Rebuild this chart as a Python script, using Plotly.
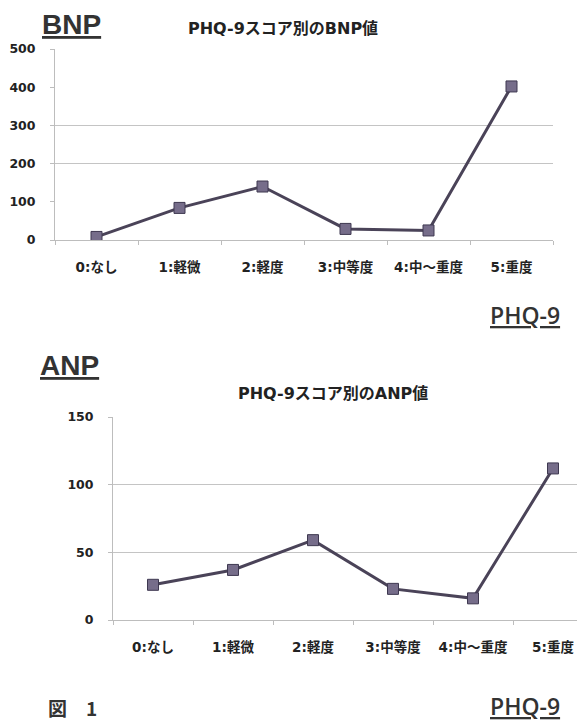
import plotly.graph_objects as go

categories = ["0:なし", "1:軽微", "2:軽度", "3:中等度", "4:中～重度", "5:重度"]
bnp_values = [8, 84, 140, 29, 25, 402]
anp_values = [26, 37, 59, 23, 16, 112]
bnp_ticks = [0, 100, 200, 300, 400, 500]
anp_ticks = [0, 50, 100, 150]
bnp_grid = [200, 300]
anp_grid = [50, 100]

# the page body has an 8px default margin, so the figure is shrunk to fit the window
OFF = 8
W, H = 585 - OFF, 724 - OFF
def px(x):
    return (x - OFF) / W
def py(y):
    return 1 - (y - OFF) / H

LINE = "#4a4358"
MARK = "#766d8a"
TICKFONT = dict(family="DejaVu Sans, Noto Sans CJK JP", size=12.5, color="#222", weight="bold")
XTICKFONT = dict(family="DejaVu Sans, Noto Sans CJK JP", size=13.5, color="#222", weight="bold")

def data_trace(y, xa, ya):
    return go.Scatter(x=categories, y=y, xaxis=xa, yaxis=ya,
                      mode="lines+markers",
                      line=dict(color=LINE, width=3),
                      marker=dict(symbol="square", size=11, color=MARK,
                                  line=dict(color="#3e3850", width=1)),
                      showlegend=False, hoverinfo="x+y")

def ghost_trace(y, xa, ya):
    return go.Scatter(x=categories, y=y, xaxis=xa, yaxis=ya, mode="markers",
                      marker=dict(opacity=0), showlegend=False, hoverinfo="skip")

fig = go.Figure()
fig.add_trace(ghost_trace(bnp_values, "x", "y"))
fig.add_trace(data_trace(bnp_values, "x", "y3"))
fig.add_trace(ghost_trace(anp_values, "x2", "y2"))
fig.add_trace(data_trace(anp_values, "x2", "y4"))

axis_common_x = dict(type="category", categoryorder="array", categoryarray=categories,
                     showgrid=False, showline=True, linecolor="#bdbdbd", linewidth=1,
                     ticks="outside", ticklen=4, tickcolor="#bdbdbd", tickson="boundaries",
                     tickfont=XTICKFONT, ticklabelstandoff=15, zeroline=False,
                     automargin=False)
axis_common_y = dict(showgrid=False, showline=True, linecolor="#bdbdbd", linewidth=1,
                     ticks="outside", ticklen=4, tickcolor="#bdbdbd",
                     tickfont=TICKFONT, ticklabelstandoff=12, zeroline=False,
                     automargin=False)
grid_common = dict(showticklabels=False, showgrid=True, gridcolor="#c4c4c4", gridwidth=1,
                   showline=False, zeroline=False, ticks="", automargin=False)

fig.update_layout(
    width=W, height=H, margin=dict(l=0, r=0, t=0, b=0, autoexpand=False),
    paper_bgcolor="white", plot_bgcolor="rgba(0,0,0,0)",
    xaxis=dict(domain=[px(55), px(553)], anchor="y", range=[-0.5, 5.5], **axis_common_x),
    yaxis=dict(domain=[py(240), py(49)], anchor="x", range=[0, 500],
               tickvals=bnp_ticks, **axis_common_y),
    yaxis3=dict(overlaying="y", anchor="x", range=[0, 500], tickvals=bnp_grid, **grid_common),
    xaxis2=dict(domain=[px(113), 1.0], anchor="y2", range=[-0.5, (585 - 113) / 80 - 0.5],
                **axis_common_x),
    yaxis2=dict(domain=[py(620), py(417)], anchor="x2", range=[0, 150],
                tickvals=anp_ticks, **axis_common_y),
    yaxis4=dict(overlaying="y2", anchor="x2", range=[0, 150], tickvals=anp_grid, **grid_common),
)

TITLEFONT = dict(family="DejaVu Sans, Noto Sans CJK JP", size=16, color="#222")
BIGFONT = dict(family="Liberation Sans, Arial", size=28, color="#333")
PHQFONT = dict(family="Open Sans", size=23, color="#333", weight=600)

ann = [
    dict(text="<b>PHQ-9スコア別のBNP値</b>", x=px(283), y=py(28), font=TITLEFONT),
    dict(text="<b>PHQ-9スコア別のANP値</b>", x=px(333), y=py(393), font=TITLEFONT),
    dict(text="<b><u>BNP</u></b>", x=px(40), y=py(25), font=BIGFONT, xanchor="left"),
    dict(text="<b><u>ANP</u></b>", x=px(38), y=py(365), font=BIGFONT, xanchor="left"),
    dict(text="<u>PHQ-9</u>", x=px(488), y=py(315), font=PHQFONT, xanchor="left"),
    dict(text="<u>PHQ-9</u>", x=px(488), y=py(706), font=PHQFONT, xanchor="left"),
    dict(text="<b>図　1</b>", x=px(46), y=py(707),
         font=dict(family="Noto Sans CJK JP", size=19, color="#333"), xanchor="left"),
]
for a in ann:
    a.setdefault("xanchor", "center")
    fig.add_annotation(xref="paper", yref="paper", showarrow=False, yanchor="middle", **a)

fig.write_html("out.html")
